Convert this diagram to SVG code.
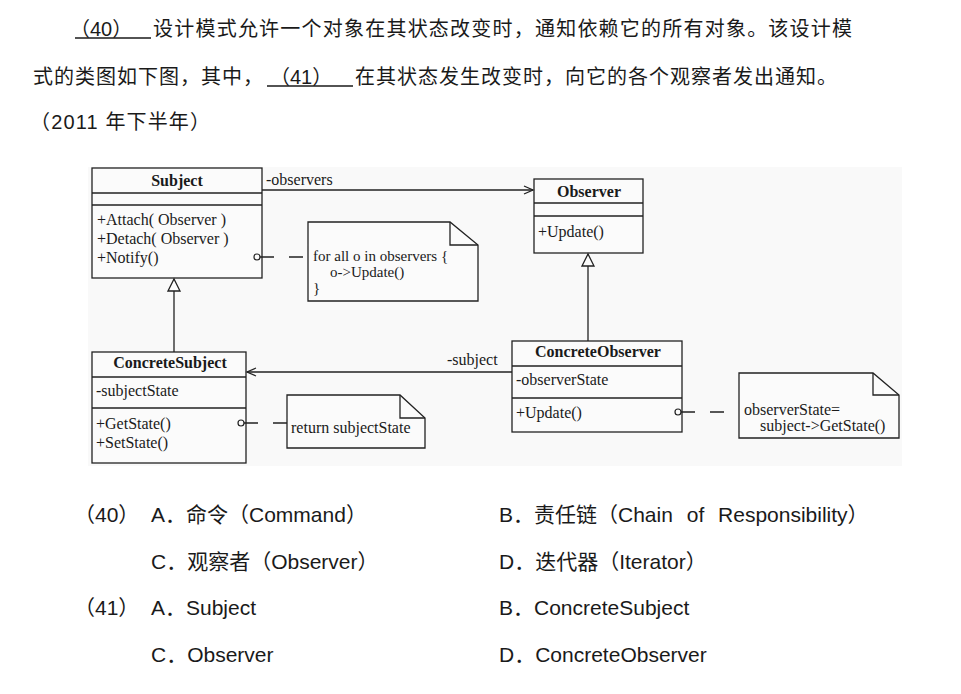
<svg xmlns="http://www.w3.org/2000/svg" width="961" height="694" viewBox="0 0 961 694">
<style>
.q{font-family:"Liberation Sans","Noto Sans CJK SC",sans-serif;font-size:20px;fill:#1a1a1a}
.o{font-family:"Liberation Sans","Noto Sans CJK SC",sans-serif;font-size:21px;fill:#1a1a1a}
.u{stroke:#1a1a1a;stroke-width:1.5}
.box{fill:#fbfbfb;stroke:#222;stroke-width:1.3}
.sep{stroke:#222;stroke-width:1.3}
.t{font-family:"Liberation Serif",serif;font-size:16px;fill:#1a1a1a}
.n{font-family:"Liberation Serif",serif;font-size:15px;fill:#1a1a1a}
.b{font-weight:bold;text-anchor:middle}
.ln{stroke:#222;stroke-width:1.3;fill:none}
.dash{stroke:#222;stroke-width:1.3;fill:none;stroke-dasharray:14,15}
.note{fill:#fbfbfb;stroke:#222;stroke-width:1.3}
</style>
<defs>
<marker id="open" markerUnits="userSpaceOnUse" markerWidth="12" markerHeight="12" refX="10" refY="5" orient="auto">
<path d="M1,1 L10,5 L1,9" fill="none" stroke="#222" stroke-width="1.3"/>
</marker>
<marker id="tri" markerUnits="userSpaceOnUse" markerWidth="16" markerHeight="16" refX="13" refY="7" orient="auto">
<path d="M1,1 L13,7 L1,13 Z" fill="#fbfbfb" stroke="#222" stroke-width="1.3"/>
</marker>
</defs>
<rect width="961" height="694" fill="#ffffff"/>

<!-- question text -->
<g id="question">
<text class="q" x="70" y="36">（40）</text>
<line class="u" x1="75" y1="38" x2="151" y2="38"/>
<text class="q" x="153" y="36" textLength="699" lengthAdjust="spacing">设计模式允许一个对象在其状态改变时，通知依赖它的所有对象。该设计模</text>
<text class="q" x="33" y="84" textLength="230" lengthAdjust="spacing">式的类图如下图，其中，</text>
<text class="q" x="270" y="84">（41）</text>
<line class="u" x1="267" y1="86" x2="353" y2="86"/>
<text class="q" x="355" y="84" textLength="482" lengthAdjust="spacing">在其状态发生改变时，向它的各个观察者发出通知。</text>
<text class="q" x="30" y="129" textLength="180" lengthAdjust="spacing">（2011 年下半年）</text>
</g>

<!-- diagram background -->
<rect x="88" y="167" width="814" height="299" fill="#f9f9f9"/>

<g id="Subject">
<rect class="box" x="92" y="168" width="170" height="110"/>
<line class="sep" x1="92" y1="193" x2="262" y2="193"/>
<line class="sep" x1="92" y1="205" x2="262" y2="205"/>
<text class="t b" x="177" y="186">Subject</text>
<text class="t" x="97" y="225">+Attach( Observer )</text>
<text class="t" x="97" y="244">+Detach( Observer )</text>
<text class="t" x="97" y="263">+Notify()</text>
</g>

<g id="Observer">
<rect class="box" x="534" y="179" width="109" height="74"/>
<line class="sep" x1="534" y1="203" x2="643" y2="203"/>
<line class="sep" x1="534" y1="216" x2="643" y2="216"/>
<text class="t b" x="589" y="197">Observer</text>
<text class="t" x="538" y="237">+Update()</text>
</g>

<g id="ConcreteObserver">
<rect class="box" x="512" y="341" width="170" height="91"/>
<line class="sep" x1="512" y1="366" x2="682" y2="366"/>
<line class="sep" x1="512" y1="398" x2="682" y2="398"/>
<text class="t b" x="598" y="357">ConcreteObserver</text>
<text class="t" x="516" y="385">-observerState</text>
<text class="t" x="516" y="418">+Update()</text>
</g>

<g id="ConcreteSubject">
<rect class="box" x="92" y="352" width="154" height="111"/>
<line class="sep" x1="92" y1="377" x2="246" y2="377"/>
<line class="sep" x1="92" y1="408" x2="246" y2="408"/>
<text class="t b" x="170" y="368">ConcreteSubject</text>
<text class="t" x="96" y="396">-subjectState</text>
<text class="t" x="96" y="429">+GetState()</text>
<text class="t" x="96" y="448">+SetState()</text>
</g>

<g id="note-notify">
<path class="note" d="M308,222 H450 L478,245 V301 H308 Z"/>
<path class="ln" d="M450,222 V245 H478"/>
<text class="n" x="313" y="261">for all o in observers {</text>
<text class="n" x="330" y="277">o-&gt;Update()</text>
<text class="n" x="313" y="293">}</text>
</g>

<g id="note-getstate">
<path class="note" d="M287,395 H400 L425,418 V448 H287 Z"/>
<path class="ln" d="M400,395 V418 H425"/>
<text class="t" x="291" y="433">return subjectState</text>
</g>

<g id="note-update">
<path class="note" d="M739,373 H873 L899,395 V438 H739 Z"/>
<path class="ln" d="M873,373 V395 H899"/>
<text class="t" x="744" y="415">observerState=</text>
<text class="t" x="760" y="431">subject-&gt;GetState()</text>
</g>

<g id="connectors">
<line class="ln" x1="262" y1="190" x2="533" y2="190" marker-end="url(#open)"/>
<line class="ln" x1="512" y1="372" x2="247" y2="372" marker-end="url(#open)"/>
<line class="ln" x1="588" y1="341" x2="588" y2="254" marker-end="url(#tri)"/>
<line class="ln" x1="174" y1="352" x2="174" y2="279" marker-end="url(#tri)"/>
<circle cx="257" cy="257" r="3" fill="#fbfbfb" stroke="#222" stroke-width="1.2"/>
<line class="dash" x1="260" y1="257" x2="308" y2="257"/>
<circle cx="241" cy="423" r="3" fill="#fbfbfb" stroke="#222" stroke-width="1.2"/>
<line class="dash" x1="244" y1="423" x2="287" y2="423"/>
<circle cx="678" cy="412" r="3" fill="#fbfbfb" stroke="#222" stroke-width="1.2"/>
<line class="dash" x1="681" y1="412" x2="739" y2="412"/>
<text class="t" x="266" y="185">-observers</text>
<text class="t" x="447" y="365">-subject</text>
</g>

<g id="options">
<text class="o" x="74" y="522">（40）</text>
<text class="o" x="151" y="522">A．命令（Command）</text>
<text class="o" x="499" y="522" word-spacing="8">B．责任链（Chain of Responsibility）</text>
<text class="o" x="151" y="569">C．观察者（Observer）</text>
<text class="o" x="499" y="569">D．迭代器（Iterator）</text>
<text class="o" x="74" y="615">（41）</text>
<text class="o" x="151" y="615">A．Subject</text>
<text class="o" x="499" y="615">B．ConcreteSubject</text>
<text class="o" x="151" y="662">C．Observer</text>
<text class="o" x="499" y="662">D．ConcreteObserver</text>
</g>
</svg>
